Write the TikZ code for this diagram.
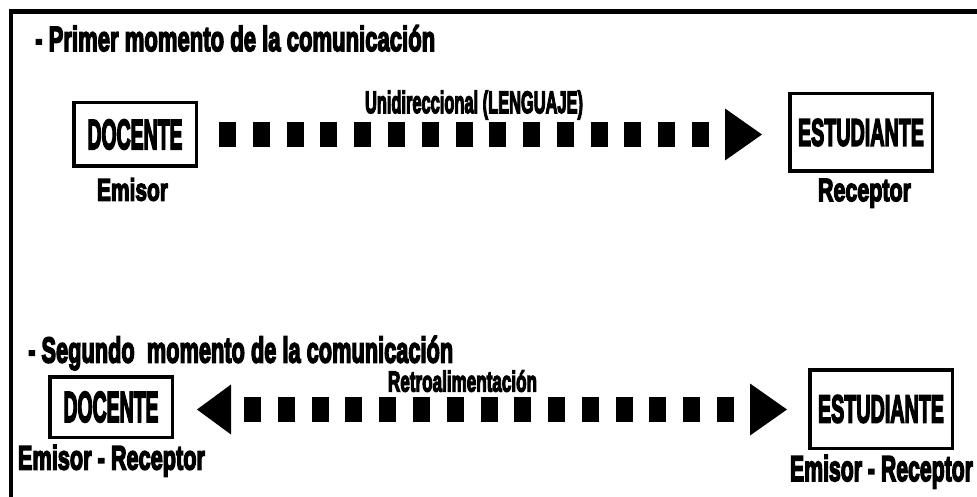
\documentclass[tikz,border=0pt]{standalone}
\usepackage{fontspec}
\setmainfont{Liberation Sans}[BoldFeatures={FakeBold=5}]
\usepackage{graphicx}
\usetikzlibrary{arrows.meta}
\newcommand\fitt[3]{{\fontsize{#2pt}{#2pt}\selectfont\bfseries
  \setbox0=\hbox{#3}%
  \pgfmathsetmacro\fitsx{#1/\the\wd0}%
  \scalebox{\fitsx}[1]{\box0}}}
\tikzset{
  frameline/.style={line width=4.6pt, line join=miter},
  boxnode/.style={draw, line width=3.5pt, inner sep=0pt, anchor=center},
  lbl/.style={inner sep=0pt, anchor=base},
  ttl/.style={inner sep=0pt, anchor=base west},
  sqline/.style={line width=25pt, dash pattern=on 17pt off 16.79pt},
  tipR/.style={-{Triangle[length=37pt,width=52pt,line width=0pt]}},
  tipLR/.style={{Triangle[length=34pt,width=50pt,line width=0pt]}-{Triangle[length=37pt,width=52pt,line width=0pt]}}
}
\begin{document}
\begin{tikzpicture}[x=1pt,y=-1pt]
\useasboundingbox (0,0) rectangle (977,497);
% frame
\coordinate (fb) at (11,497);
\coordinate (fc) at (11,11.5);
\coordinate (fr) at (977,11.5);
\draw[frameline] (fb) -- (fc) -- (fr);

% first moment
\node[ttl] (t1) at (35,51) {\fitt{400}{35}{- Primer momento de la comunicación}};
\node[boxnode, minimum width=122.5pt, minimum height=63.5pt] (doc1) at (135,134.5) {\fitt{95}{42}{DOCENTE}};
\node[lbl] (em1) at (132.5,200.5) {\fitt{71}{31}{Emisor}};
\node[boxnode, minimum width=142.5pt, minimum height=77.5pt] (est1) at (861,132.5) {\fitt{126}{38}{ESTUDIANTE}};
\node[lbl] (rc1) at (864.5,201) {\fitt{93}{32}{Receptor}};
\node[lbl] (uni) at (474,113) {\fitt{218}{31}{Unidireccional (LENGUAJE)}};
\coordinate (a1s) at (219,134.5);
\coordinate (a1e) at (762,134.5);
\draw[sqline, tipR] (a1s) -- (a1e);

% second moment
\node[ttl] (t2) at (28,362.5) {\fitt{425}{36}{- Segundo\ \ momento de la comunicación}};
\node[boxnode, minimum width=122.5pt, minimum height=60.5pt] (doc2) at (111,407) {\fitt{95}{43}{DOCENTE}};
\node[lbl] (er1) at (111.5,469.5) {\fitt{187}{34}{Emisor - Receptor}};
\node[boxnode, minimum width=142.5pt, minimum height=78.5pt] (est2) at (881,409) {\fitt{126}{39}{ESTUDIANTE}};
\node[lbl] (er2) at (881.5,481) {\fitt{183}{36}{Emisor - Receptor}};
\node[lbl] (ret) at (462.5,391.5) {\fitt{149}{29}{Retroalimentación}};
\coordinate (a2s) at (197,409.5);
\coordinate (a2e) at (787,409.5);
\draw[sqline, dash phase=20.79pt, tipLR] (a2s) -- (a2e);
\end{tikzpicture}
\end{document}
